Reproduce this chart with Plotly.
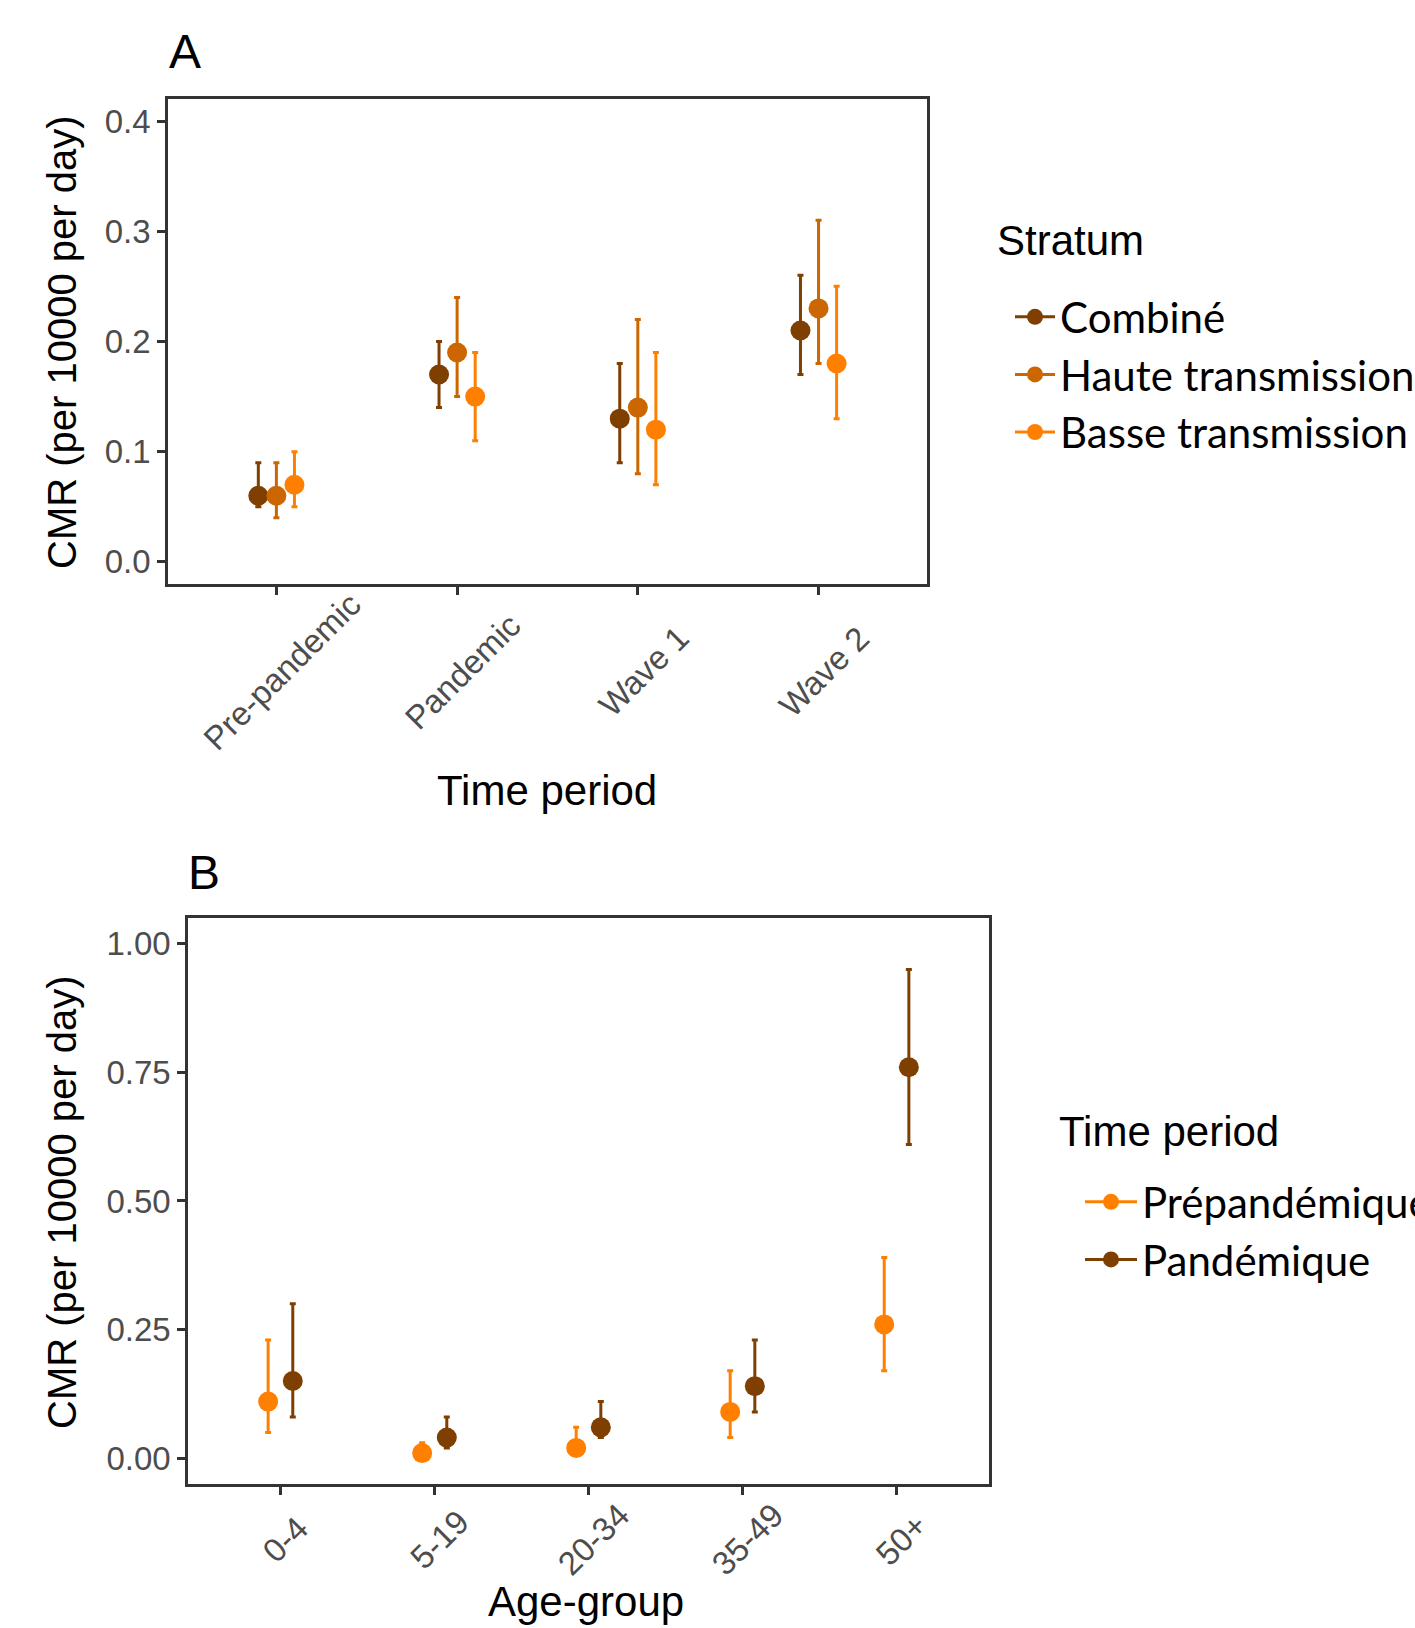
import plotly.graph_objects as go

# ---------------- Data ----------------
periods = ["Pre-pandemic", "Pandemic", "Wave 1", "Wave 2"]
strata = ["Combiné", "Haute transmission", "Basse transmission"]
combine_est = [0.06, 0.17, 0.13, 0.21]
combine_lo = [0.05, 0.14, 0.09, 0.17]
combine_hi = [0.09, 0.20, 0.18, 0.26]
haute_est = [0.06, 0.19, 0.14, 0.23]
haute_lo = [0.04, 0.15, 0.08, 0.18]
haute_hi = [0.09, 0.24, 0.22, 0.31]
basse_est = [0.07, 0.15, 0.12, 0.18]
basse_lo = [0.05, 0.11, 0.07, 0.13]
basse_hi = [0.10, 0.19, 0.19, 0.25]

age_groups = ["0-4", "5-19", "20-34", "35-49", "50+"]
periods_b = ["Prépandémique", "Pandémique"]
pre_est = [0.11, 0.01, 0.02, 0.09, 0.26]
pre_lo = [0.05, 0.00, 0.01, 0.04, 0.17]
pre_hi = [0.23, 0.03, 0.06, 0.17, 0.39]
pan_est = [0.15, 0.04, 0.06, 0.14, 0.76]
pan_lo = [0.08, 0.02, 0.04, 0.09, 0.61]
pan_hi = [0.30, 0.08, 0.11, 0.23, 0.95]

yticks_a = [0.0, 0.1, 0.2, 0.3, 0.4]
yticks_b = [0.0, 0.25, 0.50, 0.75, 1.00]

# ---------------- Styles ----------------
C_DARK = "#7F3F00"
C_MID = "#CC6600"
C_LIGHT = "#FF8000"
TICK_GRAY = "#4D4D4D"
AX_COLOR = "#333333"
FONT_MAIN = "Liberation Sans, Arial, sans-serif"
FONT_LEG = "Lato, Open Sans, sans-serif"

fig = go.Figure()

def add_series(xs_idx, offset, est, lo, hi, color, name, xaxis, yaxis, legend, group):
    xs = [i + 1 + offset for i in xs_idx]
    fig.add_trace(go.Scatter(
        x=xs, y=est, mode="markers", name=name, showlegend=False,
        xaxis=xaxis, yaxis=yaxis,
        marker=dict(color=color, size=20, symbol="circle"),
        error_y=dict(type="data", symmetric=False,
                     array=[h - e for h, e in zip(hi, est)],
                     arrayminus=[e - l for e, l in zip(est, lo)],
                     color=color, thickness=3, width=3),
    ))
    # legend proxy
    fig.add_trace(go.Scatter(
        x=[None], y=[None], mode="lines+markers", name=name,
        xaxis=xaxis, yaxis=yaxis, legend=legend, legendgroup=group,
        line=dict(color=color, width=3),
        marker=dict(color=color, size=17),
    ))

idx_a = list(range(len(periods)))
add_series(idx_a, -0.1, combine_est, combine_lo, combine_hi, C_DARK, strata[0], "x", "y", "legend", "a1")
add_series(idx_a, 0.0, haute_est, haute_lo, haute_hi, C_MID, strata[1], "x", "y", "legend", "a2")
add_series(idx_a, 0.1, basse_est, basse_lo, basse_hi, C_LIGHT, strata[2], "x", "y", "legend", "a3")

idx_b = list(range(len(age_groups)))
add_series(idx_b, -0.08, pre_est, pre_lo, pre_hi, C_LIGHT, periods_b[0], "x2", "y2", "legend2", "b1")
add_series(idx_b, 0.08, pan_est, pan_lo, pan_hi, C_DARK, periods_b[1], "x2", "y2", "legend2", "b2")

axis_common = dict(showline=True, linecolor=AX_COLOR, linewidth=2.5, mirror=True,
                   ticks="outside", ticklen=8, tickwidth=2.5, tickcolor=AX_COLOR,
                   showgrid=False, zeroline=False, automargin=False,
                   tickfont=dict(family=FONT_MAIN, size=33, color=TICK_GRAY))

fig.update_layout(
    width=1415, height=1628,
    margin=dict(l=0, r=0, t=0, b=0, autoexpand=False),
    paper_bgcolor="white", plot_bgcolor="white",
    xaxis=dict(domain=[0.1187, 0.6551], range=[0.4, 4.6], anchor="y",
               tickvals=[i + 1 for i in idx_a], showticklabels=False, **axis_common),
    yaxis=dict(domain=[0.6413, 0.9392], range=[-0.02, 0.42], anchor="x",
               tickvals=yticks_a, tickformat=".1f", **axis_common),
    xaxis2=dict(domain=[0.1329, 0.6989], range=[0.4, 5.6], anchor="y2",
                tickvals=[i + 1 for i in idx_b], showticklabels=False, **axis_common),
    yaxis2=dict(domain=[0.0885, 0.4361], range=[-0.05, 1.05], anchor="x2",
                tickvals=yticks_b, tickformat=".2f", **axis_common),
    legend=dict(x=1010 / 1415, y=1 - 283 / 1628, xanchor="left", yanchor="top",
                font=dict(family=FONT_LEG, size=42, color="black"),
                tracegroupgap=0, itemwidth=40, bgcolor="rgba(0,0,0,0)"),
    legend2=dict(x=1080 / 1415, y=1 - 1168 / 1628, xanchor="left", yanchor="top",
                 font=dict(family=FONT_LEG, size=42, color="black"),
                 tracegroupgap=0, itemwidth=52, bgcolor="rgba(0,0,0,0)"),
)

annotations = []
# legend titles
annotations.append(dict(text="Stratum", x=995 / 1415, y=1 - 241 / 1628, xref="paper", yref="paper",
                        xanchor="left", yanchor="middle", showarrow=False,
                        font=dict(family=FONT_MAIN, size=42, color="black")))
annotations.append(dict(text="Time period", x=1057 / 1415, y=1 - 1131 / 1628, xref="paper", yref="paper",
                        xanchor="left", yanchor="middle", showarrow=False,
                        font=dict(family=FONT_MAIN, size=42, color="black")))
# panel letters
annotations.append(dict(text="A", x=185 / 1415, y=1 - 52 / 1628, xref="paper", yref="paper",
                        xanchor="center", yanchor="middle", showarrow=False,
                        font=dict(family=FONT_MAIN, size=48, color="black")))
annotations.append(dict(text="B", x=204 / 1415, y=1 - 872 / 1628, xref="paper", yref="paper",
                        xanchor="center", yanchor="middle", showarrow=False,
                        font=dict(family=FONT_MAIN, size=48, color="black")))
# rotated x tick labels
for i, lab in enumerate(periods):
    annotations.append(dict(text=lab, x=i + 1 + 0.03, y=1 - 671 / 1628, xref="x", yref="paper",
                            xanchor="center", yanchor="middle", textangle=-45, showarrow=False,
                            font=dict(family=FONT_MAIN, size=33, color=TICK_GRAY)))
for i, lab in enumerate(age_groups):
    annotations.append(dict(text=lab, x=i + 1 + 0.03, y=1 - 1539 / 1628, xref="x2", yref="paper",
                            xanchor="center", yanchor="middle", textangle=-45, showarrow=False,
                            font=dict(family=FONT_MAIN, size=33, color=TICK_GRAY)))
# axis titles
annotations.append(dict(text="Time period", x=547 / 1415, y=1 - 791 / 1628, xref="paper", yref="paper",
                        xanchor="center", yanchor="middle", showarrow=False,
                        font=dict(family=FONT_MAIN, size=42, color="black")))
annotations.append(dict(text="Age-group", x=586 / 1415, y=1 - 1601 / 1628, xref="paper", yref="paper",
                        xanchor="center", yanchor="middle", showarrow=False,
                        font=dict(family=FONT_MAIN, size=42, color="black")))
annotations.append(dict(text="CMR (per 10000 per day)", x=62 / 1415, y=1 - 342 / 1628, xref="paper", yref="paper",
                        xanchor="center", yanchor="middle", textangle=-90, showarrow=False,
                        font=dict(family=FONT_MAIN, size=40, color="black")))
annotations.append(dict(text="CMR (per 10000 per day)", x=62 / 1415, y=1 - 1202 / 1628, xref="paper", yref="paper",
                        xanchor="center", yanchor="middle", textangle=-90, showarrow=False,
                        font=dict(family=FONT_MAIN, size=40, color="black")))
fig.update_layout(annotations=annotations)

fig.write_html("out.html")
